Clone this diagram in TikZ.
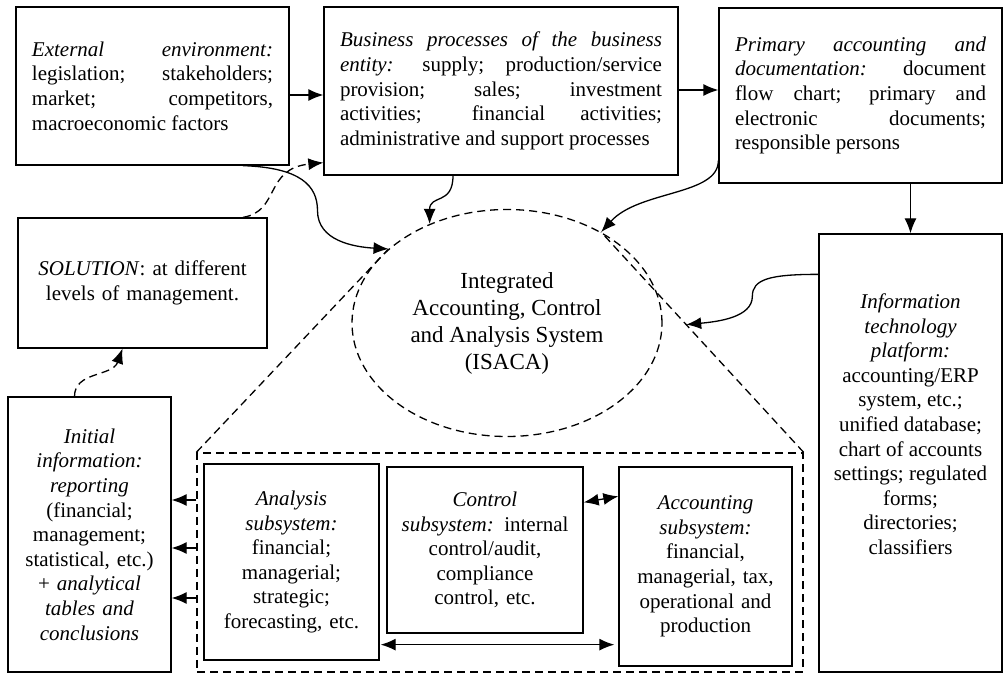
\documentclass[tikz,border=0pt]{standalone}
\usepackage{fontspec}
\setmainfont{Liberation Serif}
\usetikzlibrary{positioning,arrows.meta,calc,shapes.geometric}

\begin{document}
\begin{tikzpicture}[
  x=0.5pt, y=-0.5pt,
  font=\fontsize{10.5}{12.3}\selectfont,
  box/.style={draw, line width=0.65pt, inner xsep=8pt, inner ysep=3pt, fill=white},
  jbox/.style={box, align=justify,
               execute at begin node={\tolerance=10000\hbadness=10000}},
  cbox/.style={box, align=center},
  isys/.style={draw, ellipse, dash pattern=on 4pt off 2.5pt, line width=0.65pt,
               align=center, inner sep=0pt, font=\fontsize{11.5}{13.5}\selectfont},
  subframe/.style={draw, dash pattern=on 4pt off 2.5pt, line width=0.65pt, inner sep=0pt},
  arr/.style={-{Latex[length=7.5pt,width=6pt]}, line width=0.65pt},
  darr/.style={arr, dash pattern=on 4pt off 2.5pt},
  dline/.style={line width=0.65pt, dash pattern=on 4pt off 2.5pt},
  twoway/.style={{Latex[length=7.5pt,width=6pt]}-{Latex[length=7.5pt,width=6pt]},
                 line width=0.65pt}
]
\useasboundingbox (0,0) rectangle (1003,674);

% ---------------- top row ----------------
\node[jbox, text width=120.5pt, minimum height=79pt] (ext) at (152.5,86)
  {\textit{External environment:}\linebreak legislation; stakeholders;\linebreak
   market; competitors,\linebreak macroeconomic factors};
\node[jbox, text width=161pt, minimum height=84pt] (bp) at (501,91)
  {\textit{Business processes of the business\linebreak entity:} supply; production/service\linebreak
   provision; sales; investment\linebreak activities; financial activities;\linebreak
   administrative and support processes};
\node[jbox, text width=125.5pt, minimum height=87.5pt] (prim) at (860.5,95.5)
  {\textit{Primary accounting and\linebreak documentation:} document\linebreak
   flow chart; primary and\linebreak electronic documents;\linebreak responsible persons};

% ---------------- left column ----------------
\node[cbox, text width=108.5pt, minimum height=65pt] (sol) at (142.5,283)
  {\textit{SOLUTION}: at different\\ levels of management.};
\node[cbox, inner xsep=5pt, text width=71.5pt, minimum height=137.5pt] (init) at (89.5,534.5)
  {\textit{Initial}\\ \textit{information:}\\ \textit{reporting}\\ (financial;\\ management;\\
   statistical, etc.)\\ + \textit{analytical}\\ \textit{tables and}\\ \textit{conclusions}};

% ---------------- centre: ISACA ----------------
\node[isys, minimum width=155pt, minimum height=113.5pt] (ell) at (507,323)
  {Integrated\\ Accounting, Control\\ and Analysis System\\ (ISACA)};

% ---------------- right column ----------------
\node[box, inner sep=0pt, minimum width=91.5pt, minimum height=219pt] (itp) at (910.5,453) {};
\node[align=center, anchor=north, inner sep=0pt] (itptxt) at ($(itp.north)+(0,60)$)
  {\textit{Information}\\ \textit{technology}\\ \textit{platform:}\\ accounting/ERP\\
   system, etc.;\\ unified database;\\ chart of accounts\\ settings; regulated\\ forms;\\
   directories;\\ classifiers};

% ---------------- subsystems ----------------
\node[subframe, minimum width=303pt, minimum height=109.5pt] (sub) at (500,562.5) {};
\node[cbox, inner xsep=4pt, text width=79.5pt, minimum height=98pt] (ana) at (291.5,562)
  {\textit{Analysis}\\ \textit{subsystem:}\\ financial;\\ managerial;\\ strategic;\\ forecasting, etc.};
\node[cbox, inner xsep=3pt, text width=92pt, minimum height=83pt] (ctl) at (485,550)
  {\textit{Control}\\ \textit{subsystem:} internal\\ control/audit,\\ compliance\\ control, etc.};
\node[cbox, inner xsep=4pt, text width=78.5pt, minimum height=99.5pt] (acc) at (705.5,566.5)
  {\textit{Accounting}\\ \textit{subsystem:}\\ financial,\\ managerial, tax,\\ operational and\\ production};

% ---------------- zoom lines ----------------
\draw[dline] (sub.north west) -- (ell.148);
\draw[dline] (sub.north east) -- (ell.44);
\coordinate (hit) at ($(sub.north east)!0.58!(ell.44)$);

% ---------------- straight arrows ----------------
\draw[arr] ($(ext.east)+(0,9)$) coordinate (e1) -- (e1 -| bp.west);
\draw[arr] ($(bp.east)+(0,-1)$) coordinate (e2) -- (e2 -| prim.west);
\draw[arr] (itp.north |- prim.south) -- (itp.north);
\foreach \yy in {500,548,598}
  \draw[arr] (sub.west |- 0,\yy) -- (init.east |- 0,\yy);
\draw[twoway] ($(ctl.north east)+(0,36)$) -- ($(acc.north west)+(0,30)$);
\draw[twoway] ($(ana.south east)+(1,-16)$) coordinate (b1) -- ($(b1 -| acc.west)+(-4,0)$);

% ---------------- curved arrows ----------------
\draw[darr] ($(init.north)+(-15,0)$) .. controls ($(init.north)+(-15,-25)$)
  and ($(sol.south)+(-30,28)$) .. ($(sol.south)+(-20,0)$);
\draw[darr] ($(sol.north)+(100.5,0)$) .. controls ($(sol.north)+(137.5,-6)$)
  and ($(bp.south west)+(-59,-7)$) .. ($(bp.south west)+(0,-13)$);
\draw[arr] ($(ext.south)+(90.5,0)$) .. controls ($(ext.south)+(148,2)$)
  and ($(ext.south)+(165,20)$) .. ($(ext.south)+(165,45)$)
  .. controls ($(ext.south)+(165,75)$) and ($(ell.148)+(-35,-2)$) .. (ell.148);
\draw[arr] ($(bp.south)+(-48,0)$) .. controls ($(bp.south)+(-48,30)$)
  and ($(ell.128)+(0,-30)$) .. (ell.128);
\draw[arr] ($(prim.south west)+(0,-23)$) .. controls ($(prim.south west)+(0,12)$)
  and ($(ell.44)+(38,-42)$) .. (ell.44);
\draw[arr] ($(itp.north west)+(0,41)$) .. controls ($(itp.north west)+(-49,41)$)
  and ($(itp.north west)+(-66,46)$) .. ($(itp.north west)+(-66,63)$)
  .. controls ($(itp.north west)+(-66,84)$) and ($(hit)+(32,-3)$) .. (hit);

\end{tikzpicture}
\end{document}
